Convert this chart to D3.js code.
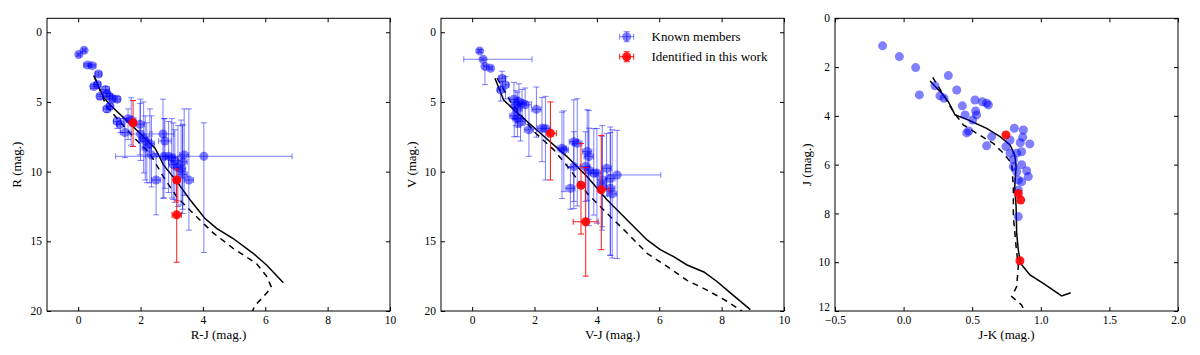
<!DOCTYPE html>
<html>
<head>
<meta charset="utf-8">
<script src="https://cdn.jsdelivr.net/npm/d3@7"></script>
<style>
  body { margin: 0; background: #fff; }
  svg text { font-family: "Liberation Serif", "Tinos", "Times New Roman", "DejaVu Serif", serif !important; fill: #000; }
  .tick line { stroke: #000; }
</style>
</head>
<body>
<script>
// each member: [x, y, xErrLeft, xErrRight, yErrUp, yErrDown]
const rjMembers = [
  [0.02,1.6,.05,.05,.1,.1],[0.19,1.3,.05,.05,.1,.1],[0.3,2.35,.12,.12,.1,.1],[0.45,2.4,.12,.12,.1,.1],
  [0.65,3.0,.1,.1,.15,.15],[0.5,3.9,.1,.1,.15,.15],[0.62,3.75,.1,.1,.15,.15],[0.7,4.6,.1,.1,.15,.2],
  [0.88,4.1,.12,.12,.2,.2],[0.92,4.4,.1,.1,.2,.2],[1.0,4.6,.1,.1,.2,.2],[1.1,4.75,.1,.1,.2,.2],
  [1.25,4.8,.1,.1,.2,.2],[0.92,5.5,.12,.12,.2,.25],[1.02,5.3,.1,.1,.2,.25],[1.25,6.4,.12,.12,.3,.5],
  [1.35,6.6,.12,.12,.4,.6],[1.5,7.2,.15,.15,1.0,1.8],[1.6,6.2,.15,.15,.7,1.5],[1.7,6.3,.15,.15,1.6,1.8],
  [1.98,6.6,.15,.15,1.5,2.2],[2.0,7.3,.3,.3,2.5,1.9],[2.1,7.6,.15,.15,2.6,2.5],[2.15,7.8,.2,.2,1.8,2.8],
  [2.3,8.0,.15,.15,2.5,2.8],[2.2,8.3,.15,.15,1.8,2.5],[2.35,8.8,.2,.2,2.8,2.3],[2.5,10.6,.15,.15,1.9,2.5],
  [2.72,7.3,.35,.35,2.5,4.6],[2.78,7.8,.2,.2,1.6,3.4],[2.75,8.9,.25,.25,2.7,3.0],[2.9,8.9,.2,.2,2.5,2.6],
  [3.0,9.0,.2,.2,2.8,2.9],[3.05,9.5,.15,.15,3.0,2.5],[3.1,9.2,.2,.2,2.2,3.0],[3.2,9.7,.15,.15,3.0,2.8],
  [3.3,9.8,.15,.15,3.5,2.6],[3.35,9.3,.15,.15,2.6,3.4],[3.4,8.8,.15,.15,3.3,2.9],[3.35,10.2,.15,.15,3.6,2.8],
  [3.55,10.6,.15,.15,5.1,3.6],[4.03,8.9,2.83,2.83,2.4,6.9]
];
const rjNew = [[1.76,6.5,.1,.1,1.6,1.7],[3.16,10.6,.1,.1,.8,1.5],[3.16,13.1,.15,.15,2.6,3.4]];
const rjSolid = [[0.51,3.13],[0.8,4.62],[1.02,5.2],[1.98,7.25],[2.46,8.3],[2.6,8.9],[2.73,9.5],[3.16,10.7],
  [3.58,12.0],[4.06,13.35],[4.44,14.07],[4.97,14.8],[5.61,15.86],[6.04,16.7],[6.58,17.97]];
const rjDashed = [[0.5,3.1],[0.91,5.33],[1.76,7.49],[2.3,8.7],[2.73,10.36],[3.16,11.8],[3.69,13.0],[4.33,14.4],
  [4.97,15.5],[5.72,16.6],[6.04,17.5],[6.2,18.3],[5.93,19.0],[5.67,19.6],[5.55,20.2]];

const vjMembers = [
  [0.24,1.34,.05,.05,.1,.1],[0.35,1.94,.62,1.57,.1,.1],[0.41,2.46,.05,.05,.1,1.3],[0.59,2.58,.05,.05,.1,.1],
  [0.96,3.3,.1,.1,.5,.6],[1.07,3.78,.1,.1,.6,1.0],[0.91,4.14,.1,.1,.6,.8],[1.34,4.8,.15,.15,1.2,1.4],
  [1.4,5.2,.15,.15,1.0,1.5],[1.5,5.0,.15,.15,1.3,1.8],[1.6,5.1,.15,.15,1.0,1.6],[1.7,5.2,.2,.2,1.2,1.4],
  [1.45,5.5,.15,.15,1.2,1.3],[1.35,6.0,.15,.15,1.2,1.5],[1.45,6.2,.15,.15,1.5,1.3],[1.55,6.4,.15,.15,1.3,1.4],
  [1.82,7.0,.15,.15,2.0,1.9],[2.06,5.53,.15,.15,1.6,2.0],[2.24,6.89,.15,.15,2.2,2.4],[2.35,6.9,.15,.15,2.3,3.7],
  [2.88,8.33,.15,.15,2.6,3.6],[2.94,8.44,.15,.15,2.8,3.0],[3.15,11.2,.15,.15,1.5,1.5],[3.26,7.85,.15,.15,3.0,4.8],
  [3.37,7.97,.15,.15,3.2,4.5],[3.26,9.64,.2,.2,2.5,2.5],[3.69,8.56,.15,.15,3.0,3.5],[3.74,8.92,.15,.15,3.3,4.5],
  [3.63,9.64,.15,.15,2.5,2.5],[3.74,9.88,.15,.15,3.0,4.0],[3.9,10.12,.15,.15,3.2,3.0],[4.0,10.1,.2,.2,3.2,3.6],
  [4.17,10.6,.15,.15,3.9,3.6],[4.17,10.96,.15,.15,3.5,3.0],[4.31,9.76,.15,.15,2.5,2.0],[4.43,10.5,.15,.15,3.7,5.5],
  [4.43,11.2,.15,.15,4.0,4.8],[4.49,11.6,.15,.15,4.6,4.6],[4.65,10.24,.3,1.4,3.2,6.0]
];
const vjNew = [[2.51,7.25,.1,.19,2.25,3.35],[3.49,10.98,.1,.1,3.0,3.5],[3.64,13.6,.4,.4,3.9,3.9],[4.14,11.3,.1,.25,3.9,4.3]];
const vjSolid = [[0.73,3.3],[1.01,4.86],[1.34,5.57],[2.19,7.25],[3.04,8.92],[3.69,10.36],[4.33,12.03],[4.97,13.47],
  [5.61,14.9],[6.03,15.6],[6.46,16.1],[6.89,16.7],[7.43,17.2],[7.86,17.9],[8.28,18.7],[8.92,19.9]];
const vjDashed = [[0.8,3.3],[1.23,4.98],[1.98,7.13],[2.62,8.44],[3.15,9.88],[3.69,11.56],[4.33,13.0],[4.97,14.4],
  [5.61,15.86],[6.25,16.8],[6.89,17.8],[7.53,18.5],[8.17,19.3],[8.65,20.0]];

// J-K points have no error bars
const jkMembers = [
  [-0.153,1.13],[-0.031,1.57],[0.088,2.02],[0.326,2.35],[0.115,3.14],[0.229,2.77],[0.265,3.18],[0.294,3.28],
  [0.387,2.94],[0.428,3.59],[0.52,3.35],[0.574,3.42],[0.605,3.48],[0.618,3.55],[0.525,3.8],[0.532,3.96],
  [0.448,3.96],[0.503,4.17],[0.46,4.7],[0.475,4.62],[0.605,5.23],[0.642,4.85],[0.807,4.51],[0.873,4.58],
  [0.868,4.88],[0.85,5.1],[0.92,5.15],[0.776,4.99],[0.746,5.26],[0.776,5.53],[0.824,5.53],[0.86,5.47],
  [0.8,5.8],[0.8,6.08],[0.86,6.0],[0.824,6.29],[0.897,6.25],[0.909,6.49],[0.836,6.63],[0.86,6.7],
  [0.836,7.04],[0.836,8.13]
];
const jkNew = [[0.746,4.78],[0.836,7.18],[0.853,7.45],[0.848,9.94]];
const jkSolid = [[0.193,2.57],[0.236,2.83],[0.29,3.14],[0.326,3.42],[0.375,3.96],[0.46,4.14],[0.605,4.51],
  [0.703,4.85],[0.776,5.19],[0.81,5.6],[0.82,6.08],[0.81,6.9],[0.82,7.72],[0.824,8.81],[0.836,9.5],
  [0.853,10.05],[0.921,10.52],[1.018,10.87],[1.152,11.38],[1.218,11.25]];
const jkDashed = [[0.212,2.42],[0.29,3.14],[0.363,3.83],[0.435,4.37],[0.532,4.71],[0.654,5.13],[0.727,5.53],
  [0.788,5.95],[0.8,6.9],[0.8,8.13],[0.82,9.36],[0.836,10.18],[0.824,11.0],[0.788,11.41],[0.86,11.75],[0.885,12.03]];

const magTicks = [0, 5, 10, 15, 20];
const colourTicks = [0, 2, 4, 6, 8, 10];
const jTicks = [0, 2, 4, 6, 8, 10, 12];
const jkTicks = [-0.5, 0, 0.5, 1, 1.5, 2];
const legendLabels = ['Known members', 'Identified in this work'];

const W = 1200, H = 355;
const plotTop = 18.3, plotBottom = 311;
const serif = '"Liberation Serif", "Tinos", "Times New Roman", "DejaVu Serif", serif';

const svg = d3.select('body').append('svg')
  .attr('width', W).attr('height', H)
  .attr('font-family', serif);

function panel(opt, idx) {
  const x = d3.scaleLinear().domain(opt.xDomain).range([opt.left, opt.right]);
  const y = d3.scaleLinear().domain(opt.yDomain).range([plotTop, plotBottom]);
  const g = svg.append('g');

  g.append('clipPath').attr('id', 'clip' + idx)
    .append('rect').attr('x', opt.left).attr('y', plotTop)
    .attr('width', opt.right - opt.left).attr('height', plotBottom - plotTop);

  const plot = g.append('g').attr('clip-path', 'url(#clip' + idx + ')');

  // isochrones
  const line = d3.line().x(d => x(d[0])).y(d => y(d[1]));
  plot.append('path').datum(opt.solid).attr('d', line)
    .attr('fill', 'none').attr('stroke', '#000').attr('stroke-width', 1.5);
  plot.append('path').datum(opt.dashed).attr('d', line)
    .attr('fill', 'none').attr('stroke', '#000').attr('stroke-width', 1.5)
    .attr('stroke-dasharray', '6,5');

  function series(data, colour, alpha) {
    if (data[0].length > 2) {
      const eb = plot.append('g').attr('stroke', colour).attr('stroke-opacity', alpha).attr('stroke-width', 1);
      data.forEach(d => {
        const cx = x(d[0]), cy = y(d[1]);
        const x0 = x(d[0] - d[2]), x1 = x(d[0] + d[3]);
        const y0 = y(d[1] - d[4]), y1 = y(d[1] + d[5]);
        eb.append('line').attr('x1', x0).attr('x2', x1).attr('y1', cy).attr('y2', cy);
        eb.append('line').attr('x1', cx).attr('x2', cx).attr('y1', y0).attr('y2', y1);
        eb.append('line').attr('x1', x0).attr('x2', x0).attr('y1', cy - 3).attr('y2', cy + 3);
        eb.append('line').attr('x1', x1).attr('x2', x1).attr('y1', cy - 3).attr('y2', cy + 3);
        eb.append('line').attr('x1', cx - 3).attr('x2', cx + 3).attr('y1', y0).attr('y2', y0);
        eb.append('line').attr('x1', cx - 3).attr('x2', cx + 3).attr('y1', y1).attr('y2', y1);
      });
    }
    plot.append('g').selectAll('circle').data(data).join('circle')
      .attr('cx', d => x(d[0])).attr('cy', d => y(d[1])).attr('r', 4.5)
      .attr('fill', colour).attr('fill-opacity', alpha);
  }
  series(opt.members, 'blue', 0.5);
  series(opt.added, 'red', 0.9);

  // frame
  g.append('rect').attr('x', opt.left).attr('y', plotTop)
    .attr('width', opt.right - opt.left).attr('height', plotBottom - plotTop)
    .attr('fill', 'none').attr('stroke', '#000').attr('stroke-width', 1);

  // axes with inward ticks on all four sides
  g.append('g').attr('transform', 'translate(0,' + plotBottom + ')')
    .call(d3.axisBottom(x).tickValues(opt.xTicks).tickSize(-4).tickPadding(5).tickFormat(opt.xFormat));
  const yAxis = g.append('g').attr('transform', 'translate(' + opt.left + ',0)')
    .call(d3.axisLeft(y).tickValues(opt.yTicks).tickSize(-4).tickPadding(5).tickFormat(d3.format('d')));
  g.append('g').attr('transform', 'translate(0,' + plotTop + ')')
    .call(d3.axisTop(x).tickValues(opt.xTicks).tickSize(-4).tickFormat(''));
  g.append('g').attr('transform', 'translate(' + opt.right + ',0)')
    .call(d3.axisRight(y).tickValues(opt.yTicks).tickSize(-4).tickFormat(''));
  g.selectAll('.domain').remove();
  g.selectAll('g[font-family]').attr('font-family', serif).attr('font-size', 11.5);
  if (opt.liftLast) {
    // keep the bottom y label clear of the first x label
    yAxis.selectAll('.tick text').filter(d => d === opt.yDomain[1]).attr('y', -4);
  }

  g.append('text').attr('x', (opt.left + opt.right) / 2).attr('y', 338.5)
    .attr('text-anchor', 'middle').attr('font-size', 13).text(opt.xLabel);
  g.append('text')
    .attr('transform', 'translate(' + opt.yLabelX + ',' + ((plotTop + plotBottom) / 2) + ') rotate(-90)')
    .attr('text-anchor', 'middle').attr('font-size', 13).text(opt.yLabel);
  return g;
}

panel({ left: 47, right: 390, xDomain: [-1, 10], yDomain: [-1, 20], xTicks: colourTicks, yTicks: magTicks,
  xFormat: d3.format('d'), solid: rjSolid, dashed: rjDashed, members: rjMembers, added: rjNew,
  xLabel: 'R-J (mag.)', yLabel: 'R (mag.)', yLabelX: 21 }, 1);

const p2 = panel({ left: 441, right: 784, xDomain: [-1, 10], yDomain: [-1, 20], xTicks: colourTicks, yTicks: magTicks,
  xFormat: d3.format('d'), solid: vjSolid, dashed: vjDashed, members: vjMembers, added: vjNew,
  xLabel: 'V-J (mag.)', yLabel: 'V (mag.)', yLabelX: 416 }, 2);

panel({ left: 835, right: 1178, xDomain: [-0.5, 2], yDomain: [0, 12], xTicks: jkTicks, yTicks: jTicks,
  xFormat: d => d3.format('.1f')(d).replace('-', '\u2212'), solid: jkSolid, dashed: jkDashed,
  members: jkMembers, added: jkNew, xLabel: 'J-K (mag.)', yLabel: 'J (mag.)', yLabelX: 811, liftLast: true }, 3);

// legend
const legend = p2.append('g');
[['blue', 0.5], ['red', 0.9]].forEach((c, i) => {
  const ly = 36.7 + i * 20, lx = 626.7;
  const lg = legend.append('g');
  lg.append('g').attr('stroke', c[0]).attr('stroke-opacity', c[1]).call(s => {
    s.append('line').attr('x1', lx - 7).attr('x2', lx + 7).attr('y1', ly).attr('y2', ly);
    s.append('line').attr('x1', lx).attr('x2', lx).attr('y1', ly - 5).attr('y2', ly + 5);
    s.append('line').attr('x1', lx + 7).attr('x2', lx + 7).attr('y1', ly - 3).attr('y2', ly + 3);
    s.append('line').attr('x1', lx - 7).attr('x2', lx - 7).attr('y1', ly - 3).attr('y2', ly + 3);
    s.append('line').attr('x1', lx - 3).attr('x2', lx + 3).attr('y1', ly - 5).attr('y2', ly - 5);
    s.append('line').attr('x1', lx - 3).attr('x2', lx + 3).attr('y1', ly + 5).attr('y2', ly + 5);
  });
  lg.append('circle').attr('cx', lx).attr('cy', ly).attr('r', 4.5)
    .attr('fill', c[0]).attr('fill-opacity', c[1]);
  lg.append('text').attr('x', 651.5).attr('y', ly + 4.5).attr('font-size', 13).text(legendLabels[i]);
});
</script>
</body>
</html>
